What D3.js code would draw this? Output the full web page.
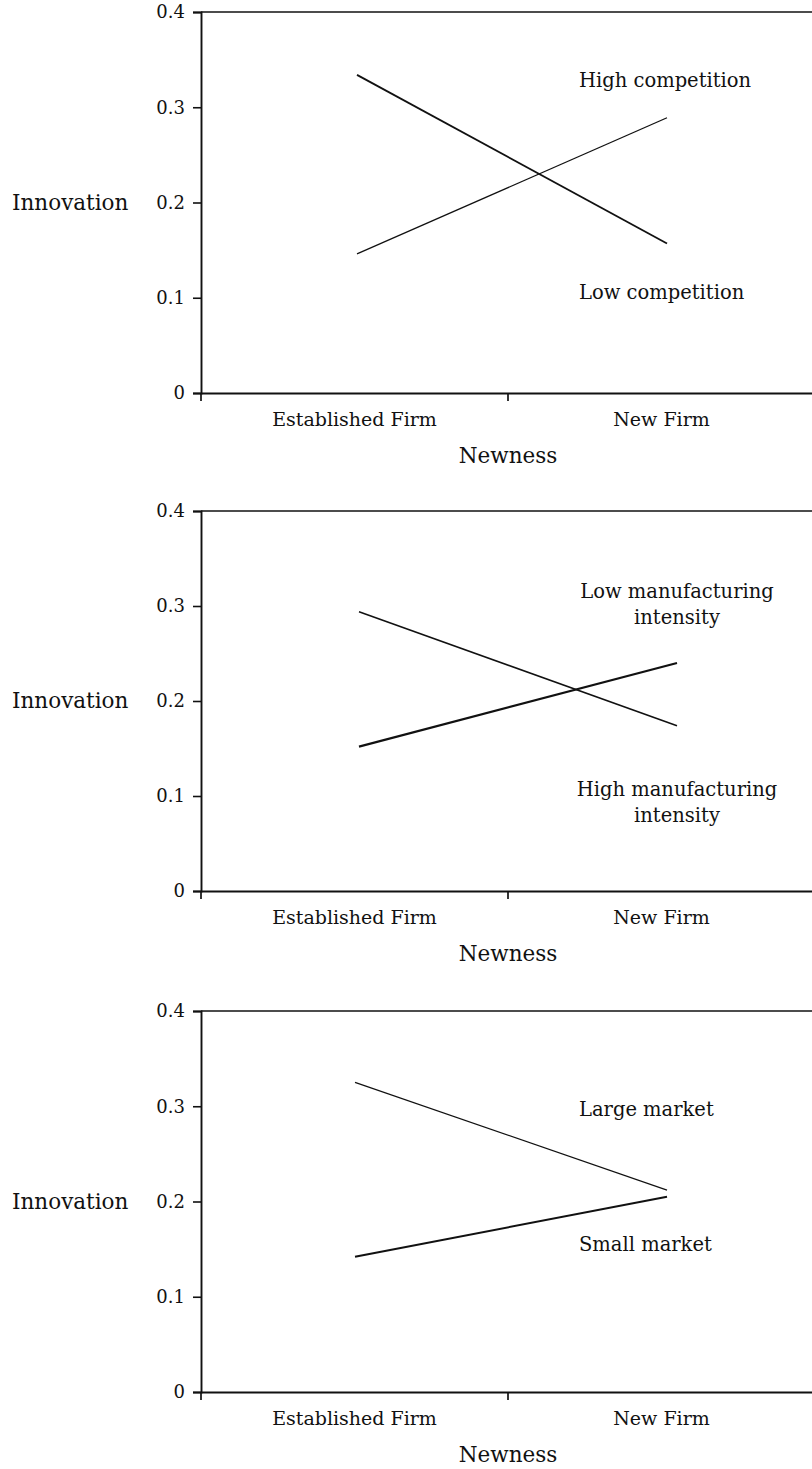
<!DOCTYPE html>
<html><head><meta charset="utf-8">
<script src="https://cdn.jsdelivr.net/npm/d3@7"></script>
<style>
html,body{margin:0;padding:0;background:#fff;}
svg{display:block;}
text{font-family:"DejaVu Serif",serif;fill:#111;}
</style></head>
<body>
<svg id="c" width="812" height="1469"></svg>
<script>
const categories = ["Established Firm", "New Firm"];
const yTicks = [0, 0.1, 0.2, 0.3, 0.4];
const xTitle = "Newness";
const yTitle = "Innovation";

// Panel 1
const p1Names = ["High competition", "Low competition"];
const p1High = [0.146, 0.289];
const p1Low = [0.334, 0.157];
// Panel 2
const p2Names = ["Low manufacturing|intensity", "High manufacturing|intensity"];
const p2Low = [0.294, 0.174];
const p2High = [0.152, 0.240];
// Panel 3
const p3Names = ["Large market", "Small market"];
const p3Large = [0.325, 0.212];
const p3Small = [0.142, 0.205];

const panels = [
  {top: 12, H: 381, lineRange: [357, 667], series: [
    {values: p1High, width: 1.3},
    {values: p1Low, width: 1.8}],
   labels: [{text: p1Names[0], v: 0.321}, {text: p1Names[1], v: 0.099}]},
  {top: 511, H: 380, lineRange: [359, 677], series: [
    {values: p2Low, width: 1.5},
    {values: p2High, width: 2.2}],
   labels: [{text: p2Names[0], v: 0.308}, {text: p2Names[1], v: 0.100}]},
  {top: 1011, H: 381, lineRange: [355, 667], series: [
    {values: p3Large, width: 1.2},
    {values: p3Small, width: 2.0}],
   labels: [{text: p3Names[0], v: 0.290}, {text: p3Names[1], v: 0.148}]}
];

const svg = d3.select("#c");
const left = 201, right = 815;

panels.forEach(p => {
  const g = svg.append("g");
  const x = d3.scaleBand().domain(categories).range([left, right]).padding(0);
  const xp = d3.scalePoint().domain(categories).range(p.lineRange);
  const y = d3.scaleLinear().domain([0, 0.4]).range([p.top + p.H, p.top]);

  // frame (top border and right border, which falls off the right edge)
  g.append("line").attr("x1", left).attr("x2", right).attr("y1", y(0.4)).attr("y2", y(0.4))
    .attr("stroke", "#111").attr("stroke-width", 1.7);
  g.append("line").attr("x1", right).attr("x2", right).attr("y1", y(0.4)).attr("y2", y(0))
    .attr("stroke", "#111").attr("stroke-width", 1.7);

  // y axis
  const ya = g.append("g").attr("transform", `translate(${left},0)`)
    .call(d3.axisLeft(y).tickValues(yTicks).tickSize(8).tickPadding(8)
      .tickFormat(d => d === 0 ? "0" : d.toFixed(1)));
  ya.select(".domain").attr("stroke", "#111").attr("stroke-width", 1.9);
  ya.selectAll(".tick line").attr("stroke", "#111").attr("stroke-width", 1.6);
  ya.selectAll(".tick text").attr("font-size", 18).attr("font-family", "DejaVu Serif").attr("fill", "#111");

  // x axis: labels
  const xa = g.append("g").attr("transform", `translate(0,${y(0)})`)
    .call(d3.axisBottom(x).tickSize(0).tickPadding(20));
  xa.select(".domain").attr("stroke", "#111").attr("stroke-width", 1.9);
  xa.selectAll(".tick text").attr("font-size", 19).attr("font-family", "DejaVu Serif").attr("fill", "#111");
  // boundary ticks
  const bounds = [left, ...categories.map(c => x(c) + x.bandwidth())];
  g.selectAll(".btick").data(bounds).enter().append("line")
    .attr("x1", d => d).attr("x2", d => d)
    .attr("y1", y(0)).attr("y2", y(0) + 8)
    .attr("stroke", "#111").attr("stroke-width", 1.7);

  // axis titles
  g.append("text").attr("x", (left + right) / 2).attr("y", y(0) + 70)
    .attr("text-anchor", "middle").attr("font-size", 21.5).text(xTitle);
  g.append("text").attr("x", 12).attr("y", y(0.2) + 7)
    .attr("font-size", 21.5).text(yTitle);

  // lines
  const line = d3.line().x((d, i) => xp(categories[i])).y(d => y(d));
  p.series.forEach(s => {
    g.append("path").datum(s.values).attr("d", line)
      .attr("fill", "none").attr("stroke", "#111").attr("stroke-width", s.width);
  });

  // labels
  p.labels.forEach(l => {
    const parts = l.text.split("|");
    if (parts.length > 1) {
      const t = g.append("text").attr("text-anchor", "middle")
        .attr("x", 677).attr("y", y(l.v)).attr("font-size", 19.5);
      parts.forEach((pt, i) => {
        t.append("tspan").attr("x", 677).attr("dy", i === 0 ? 0 : 26).text(pt);
      });
    } else {
      g.append("text").attr("text-anchor", "start")
        .attr("x", 579).attr("y", y(l.v)).attr("font-size", 19.5).text(l.text);
    }
  });
});
</script>
</body></html>
